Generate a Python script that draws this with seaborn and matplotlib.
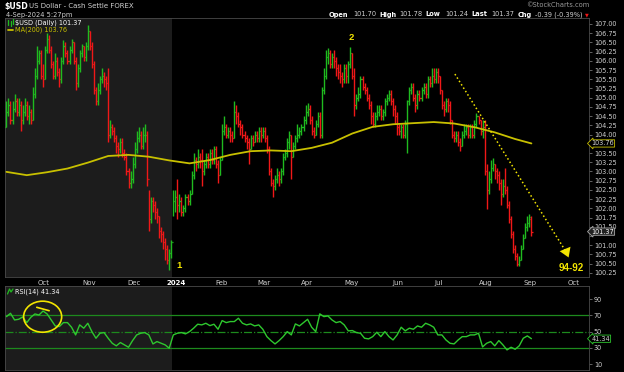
import numpy as np
import pandas as pd
import seaborn as sns
import matplotlib.pyplot as plt
from matplotlib.patches import Ellipse

# daily bars for $USD, 7-Sep-2023 .. 4-Sep-2024
closes = [
    104.6, 104.8, 104.4, 104.7, 104.9, 104.6, 104.8, 104.4, 104.6, 104.8, 104.5, 104.6, 104.4, 105.1, 105.6, 106.0, 106.2,
    105.6, 105.5, 106.3, 106.6, 106.3, 105.9, 105.6, 106.0, 105.7, 105.5, 106.0, 106.4, 106.2, 106.0, 106.3, 106.5, 106.0, 105.4, 105.8, 106.2, 106.4, 106.1,
    106.4, 106.8, 106.4, 105.9, 105.2, 104.9, 105.2, 105.5, 105.6, 105.5, 105.4, 104.0, 104.2, 104.1, 103.9, 103.7, 103.6, 103.8, 103.5, 103.4, 103.0, 102.7,
    102.8, 103.2, 103.6, 103.9, 104.0, 103.7, 104.0, 104.0, 102.8, 101.7, 102.2, 102.1, 101.9, 101.8, 101.4, 101.3, 101.1, 100.9, 100.6, 100.8, 101.1,
    102.2, 102.3, 102.1, 102.2, 101.9, 102.0, 102.3, 102.2, 102.4, 102.9, 103.3, 103.2, 103.4, 103.3, 103.0, 103.2, 103.4, 103.2, 103.5, 103.3, 103.6, 103.2,
    102.9, 103.3, 104.1, 104.2, 104.0, 104.1, 104.0, 103.9, 104.6, 104.5, 104.3, 104.2, 104.0, 103.9, 103.8, 103.6, 103.9, 103.8, 104.0, 103.9, 104.1,
    104.0, 104.1, 103.9, 103.6, 103.0, 102.7, 102.6, 102.8, 102.9, 102.8, 103.0, 103.4, 103.5, 103.8, 104.0, 103.4, 103.7, 103.9, 104.0, 104.1, 104.2,
    104.4, 104.6, 104.7, 104.4, 104.1, 104.0, 104.3, 104.5, 104.0, 105.2, 105.6, 106.1, 106.2, 105.9, 106.1, 106.0, 105.8, 105.7, 105.6, 105.5, 105.8, 105.6,
    105.9, 106.2, 105.6, 104.8, 105.0, 105.1, 105.5, 105.3, 105.2, 105.0, 104.8, 104.5, 104.3, 104.5, 104.6, 104.7, 104.5, 104.6, 104.9, 105.0, 105.1, 104.9, 104.7,
    104.5, 104.2, 104.1, 104.2, 104.0, 104.3, 104.9, 105.2, 105.3, 105.0, 104.8, 105.1, 105.0, 105.2, 105.3, 105.1, 105.5, 105.4, 105.6, 105.5,
    105.7, 105.6, 105.2, 104.8, 104.7, 104.9, 104.8, 104.4, 104.0, 103.9, 104.0, 103.8, 103.7, 104.0, 104.1, 104.2, 104.0, 104.2, 104.0, 104.3, 104.5, 104.4, 104.1,
    104.2, 103.0, 102.5, 102.8, 103.1, 103.2, 103.0, 102.9, 102.7, 102.4, 102.6, 102.5, 102.1, 101.7, 101.3, 100.9, 100.7, 100.5, 100.6, 100.9, 101.2, 101.5,
    101.6, 101.76, 101.37,
]
highs = [
    104.9, 105.0, 104.9, 104.9, 105.1, 105.0, 105.0, 104.9, 104.8, 105.0, 104.9, 104.8, 104.7, 105.3, 105.8, 106.4, 106.3,
    106.3, 105.9, 106.4, 106.75, 106.7, 106.4, 106.0, 106.2, 106.1, 105.8, 106.1, 106.57, 106.5, 106.3, 106.4, 106.6, 106.5, 106.1, 105.9, 106.3, 106.45, 106.4,
    106.5, 106.98, 106.8, 106.5, 106.0, 105.3, 105.4, 105.6, 105.8, 105.7, 105.6, 105.8, 104.4, 104.3, 104.2, 104.0, 103.8, 103.9, 103.9, 103.6, 103.5, 103.1,
    103.0, 103.4, 103.8, 104.1, 104.2, 104.1, 104.2, 104.3, 104.1, 102.5, 102.3, 102.3, 102.2, 102.0, 101.8, 101.5, 101.4, 101.2, 101.0, 100.9, 101.15,
    102.5, 102.5, 102.8, 102.4, 102.3, 102.1, 102.4, 102.4, 102.5, 103.0, 103.5, 103.4, 103.6, 103.5, 103.6, 103.3, 103.5, 103.5, 103.6, 103.6, 103.7, 103.7,
    103.3, 103.4, 104.3, 104.5, 104.3, 104.2, 104.2, 104.1, 104.9, 104.8, 104.6, 104.4, 104.3, 104.1, 104.0, 103.9, 104.0, 104.0, 104.1, 104.1, 104.2,
    104.2, 104.2, 104.2, 104.0, 103.7, 103.1, 102.8, 102.9, 103.1, 103.0, 103.1, 103.5, 103.6, 103.9, 104.1, 104.0, 103.8, 104.0, 104.3, 104.2, 104.3,
    104.5, 104.8, 104.86, 104.8, 104.5, 104.2, 104.4, 104.6, 104.6, 105.3, 105.8, 106.3, 106.35, 106.3, 106.2, 106.3, 106.1, 105.9, 105.9, 105.7, 105.9, 105.9,
    106.0, 106.37, 106.2, 105.8, 105.1, 105.3, 105.6, 105.6, 105.4, 105.3, 105.1, 104.9, 104.6, 104.6, 104.8, 104.8, 104.8, 104.7, 105.0, 105.1, 105.2, 105.2, 105.0,
    104.8, 104.6, 104.3, 104.3, 104.3, 104.4, 104.95, 105.3, 105.4, 105.4, 105.1, 105.2, 105.2, 105.3, 105.4, 105.4, 105.6, 105.6, 105.8, 105.8,
    105.8, 105.8, 105.6, 105.2, 104.9, 105.0, 105.0, 104.9, 104.4, 104.1, 104.1, 104.1, 103.9, 104.1, 104.3, 104.3, 104.3, 104.3, 104.3, 104.4, 104.59, 104.5, 104.4,
    104.4, 104.4, 103.2, 103.0, 103.3, 103.37, 103.2, 103.1, 103.0, 102.8, 102.8, 103.1, 102.6, 102.2, 101.8, 101.4, 101.0, 100.8, 100.7, 101.0, 101.3, 101.6,
    101.8, 101.85, 101.78,
]
lows = [
    104.2, 104.5, 104.3, 104.3, 104.6, 104.5, 104.5, 104.1, 104.3, 104.5, 104.4, 104.3, 104.3, 104.4, 105.0, 105.5, 105.9,
    105.5, 105.3, 105.5, 106.2, 106.2, 105.8, 105.5, 105.5, 105.6, 105.3, 105.4, 105.9, 106.1, 105.9, 105.9, 106.2, 105.9, 105.2, 105.3, 105.7, 106.1, 106.0,
    106.0, 106.3, 106.3, 105.8, 105.1, 104.8, 104.8, 105.1, 105.4, 105.3, 105.2, 103.8, 103.9, 104.0, 103.8, 103.5, 103.4, 103.5, 103.4, 103.3, 102.9, 102.55,
    102.55, 102.7, 103.1, 103.5, 103.8, 103.6, 103.6, 103.8, 102.6, 101.4, 101.6, 101.9, 101.7, 101.6, 101.2, 101.1, 100.9, 100.6, 100.5, 100.34, 100.66,
    101.8, 101.9, 101.7, 101.9, 101.8, 101.8, 101.9, 102.1, 102.1, 102.4, 102.8, 103.0, 103.1, 103.1, 102.6, 102.9, 103.1, 103.1, 103.1, 103.2, 103.2, 103.1,
    102.7, 102.9, 103.3, 104.0, 103.9, 103.9, 103.8, 103.8, 103.9, 104.3, 104.2, 104.0, 103.9, 103.8, 103.6, 103.2, 103.6, 103.7, 103.8, 103.8, 103.8,
    103.8, 103.9, 103.8, 103.5, 102.9, 102.6, 102.3, 102.5, 102.7, 102.6, 102.7, 102.9, 103.3, 103.4, 103.6, 102.8, 103.4, 103.6, 103.8, 103.9, 104.0,
    104.1, 104.3, 104.5, 104.3, 104.0, 103.9, 104.0, 104.2, 103.9, 103.9, 105.1, 105.5, 105.9, 105.8, 105.8, 105.8, 105.6, 105.5, 105.4, 105.3, 105.4, 105.4,
    105.4, 105.8, 105.5, 104.5, 104.7, 104.9, 105.0, 105.2, 105.1, 104.9, 104.7, 104.3, 104.2, 104.2, 104.4, 104.5, 104.4, 104.4, 104.5, 104.8, 104.9, 104.8, 104.5,
    104.3, 104.0, 104.0, 103.9, 103.9, 103.9, 103.5, 104.8, 105.1, 104.9, 104.6, 104.7, 104.9, 104.9, 105.1, 105.0, 105.0, 105.3, 105.3, 105.4,
    105.4, 105.4, 105.1, 104.7, 104.5, 104.6, 104.6, 104.3, 103.9, 103.8, 103.8, 103.7, 103.55, 103.7, 103.9, 104.0, 103.9, 103.9, 103.9, 103.9, 104.2, 104.3, 104.0,
    103.9, 102.9, 101.97, 102.4, 102.7, 103.0, 102.8, 102.7, 102.5, 102.1, 102.3, 102.4, 102.0, 101.6, 101.2, 100.8, 100.6, 100.43, 100.45, 100.6, 100.9, 101.2,
    101.4, 101.5, 101.24,
]
last_open = 101.70

# 200-day moving average, one value every 10 sessions plus the last session
ma200 = [102.99, 102.90, 102.98, 103.08, 103.24, 103.42, 103.45, 103.40, 103.30, 103.22,
         103.31, 103.45, 103.55, 103.57, 103.55, 103.64, 103.78, 104.03, 104.21, 104.28,
         104.31, 104.34, 104.30, 104.20, 104.06, 103.88, 103.76]

# RSI(14), one value every 2 sessions
rsi14 = [68.6, 72.7, 64.5, 65.3, 68.2, 61.2, 67.8, 71.9, 70.6, 75.5,
         71.9, 64.5, 57.1, 56.3, 61.2, 61.2, 55.5, 46.0, 58.4, 54.3,
         60.4, 50.1, 41.9, 48.1, 48.9, 41.9, 35.7, 32.5, 36.6, 33.7,
         30.8, 39.0, 46.0, 48.1, 48.9, 46.0, 34.9, 37.8, 35.7, 33.7,
         29.6, 46.0, 48.1, 48.9, 47.3, 50.1, 54.3, 59.2, 58.4, 60.4,
         57.5, 59.2, 53.0, 63.7, 61.2, 62.5, 62.5, 66.6, 60.4, 58.4,
         59.6, 57.1, 58.4, 53.0, 43.9, 39.0, 34.9, 39.0, 43.9, 50.1,
         46.0, 59.6, 57.1, 61.2, 65.3, 55.5, 50.1, 72.0, 68.6, 69.4,
         64.5, 61.2, 62.5, 58.4, 51.0, 51.4, 48.9, 48.1, 41.9, 41.1,
         43.9, 49.3, 43.9, 50.1, 43.9, 39.8, 46.0, 55.5, 51.0, 54.3,
         53.0, 57.1, 55.5, 60.4, 58.4, 55.5, 46.0, 46.0, 39.8, 35.7,
         34.9, 39.8, 43.9, 43.9, 46.0, 46.0, 48.1, 31.2, 35.7, 37.8,
         32.5, 39.0, 33.7, 27.5, 30.8, 28.3, 32.5, 41.9, 44.8, 41.34]

month_labels = ['Oct', 'Nov', 'Dec', '2024', 'Feb', 'Mar', 'Apr', 'May', 'Jun', 'Jul', 'Aug', 'Sep', 'Oct']
price_ticks = np.arange(100.25, 107.01, 0.25)
rsi_ticks = [10, 30, 50, 70, 90]

GREEN = '#1fbb1f'
RED = '#f01818'
YELLOW = '#f2e400'
MA_COL = '#c8c000'
GRAY_BG = '#1c1c1c'
TXT = '#d0d0d0'

sns.set_theme(style="dark", rc={"axes.facecolor": "black", "figure.facecolor": "black",
                                "axes.edgecolor": "#444444", "text.color": TXT})
plt.rcParams['font.family'] = ['DejaVu Sans']

# trading sessions (weekdays, New Year's Day skipped), running past the data
sessions = pd.bdate_range("2023-09-07", "2024-10-31")
sessions = sessions[sessions != pd.Timestamp("2024-01-01")]
n = len(closes)
idx = np.arange(n)
opens = [lows[0]] + closes[:-2] + [last_open]
prev = [lows[0]] + closes[:-1]
bar_cols = [GREEN if c >= p else RED for c, p in zip(closes, prev)]

months = pd.date_range("2023-10-01", "2024-10-01", freq="MS")
month_pos = np.array([sessions.searchsorted(m) for m in months])

W, H = 624, 372
fig = plt.figure(figsize=(W / 100, H / 100), dpi=100)


def fx(x):
    return x / W


def fy(y):
    return 1 - y / H


def ptext(x, y, s, **kw):
    kw.setdefault('va', 'center')
    kw.setdefault('fontsize', 4.8)
    fig.text(fx(x), fy(y), s, **kw)


XL = (-0.7, 286.3)
ax = fig.add_axes([fx(5), fy(277), fx(589) - fx(5), fy(18) - fy(277)])
rx = fig.add_axes([fx(5), fy(370), fx(589) - fx(5), fy(286) - fy(370)])

for a in (ax, rx):
    a.set_facecolor('black')
    a.axvspan(XL[0], 81.6, color=GRAY_BG, zorder=0, lw=0)
    a.set_xlim(*XL)
    for s in a.spines.values():
        s.set_color('#4a4a4a')
        s.set_linewidth(0.6)

# price bars (high-low line, open tick left, close tick right)
ax.vlines(idx, lows, highs, colors=bar_cols, lw=1.0, zorder=3)
ax.hlines(opens, idx - 0.55, idx, colors=bar_cols, lw=0.9, zorder=3)
ax.hlines(closes, idx, idx + 0.55, colors=bar_cols, lw=0.9, zorder=3)

ma_x = list(idx[::10]) + [idx[-1]]
sns.lineplot(x=ma_x, y=ma200, ax=ax, color=MA_COL, lw=1.3, zorder=4)

ax.set_ylim(100.14, 107.16)
ax.yaxis.tick_right()
ax.set_yticks(price_ticks)
# label hidden behind the MA value tag is left blank
hidden = {"103.75", "101.25"}
ax.set_yticklabels([("" if f"{v:.2f}" in hidden else f"{v:.2f}") for v in price_ticks])
ax.tick_params(axis='y', colors='#888888', labelcolor=TXT, labelsize=4.7, length=2, width=0.5, pad=1.5, right=True)
ax.set_xticks(month_pos + 1.5)
ax.set_xticklabels(month_labels)
ax.tick_params(axis='x', length=0, labelsize=5, labelcolor=TXT, pad=2)
for t in ax.get_xticklabels():
    if t.get_text() == '2024':
        t.set_fontweight('bold')
        t.set_color('white')
ax.grid(False)
ax.set_xlabel('')
ax.set_ylabel('')

# wave labels and target
ax.text(83.6, 100.45, '1', color=YELLOW, fontsize=6.8, fontweight='bold', va='center', ha='left',
        family='Liberation Sans', zorder=6)
ax.text(169.3, 106.62, '2', color=YELLOW, fontsize=6.8, fontweight='bold', va='center', ha='center',
        family='Liberation Sans', zorder=6)
ax.text(277.5, 100.39, '94-92', color=YELLOW, fontsize=7, fontweight='bold', va='center', ha='center',
        family='Liberation Sans', zorder=6)
ax.plot([220.4, 274.6], [105.64, 100.86], color=YELLOW, lw=1.1, ls=(0, (1, 1.6)), zorder=5)
ax.annotate('', xy=(276.8, 100.6), xytext=(274.4, 100.92),
            arrowprops=dict(arrowstyle='-|>,head_length=0.55,head_width=0.35', color=YELLOW, lw=0.01),
            zorder=6)

# value tags on the price axis
ax.text(1.004, ma200[-1], f"{ma200[-1]:.2f}", transform=ax.get_yaxis_transform(), fontsize=4.7,
        color=TXT, va='center', ha='left', clip_on=False, zorder=8,
        bbox=dict(boxstyle='larrow,pad=0.1', fc='black', ec=MA_COL, lw=0.6))
ax.text(1.004, closes[-1], f"{closes[-1]:.2f}", transform=ax.get_yaxis_transform(), fontsize=4.7,
        color='white', va='center', ha='left', clip_on=False, zorder=8,
        bbox=dict(boxstyle='larrow,pad=0.1', fc='#222222', ec='#aaaaaa', lw=0.6))

# RSI panel
rsi_x = idx[::2][:len(rsi14)]
for lvl in (70, 30):
    rx.axhline(lvl, color='#1d8a1d', lw=0.9, zorder=2)
rx.axhline(50, color='#1d8a1d', lw=0.9, ls='-.', zorder=2)
sns.lineplot(x=rsi_x, y=rsi14, ax=rx, color='#2ec82e', lw=1.0, zorder=4)
rx.set_ylim(2.7, 106.4)
rx.yaxis.tick_right()
rx.set_yticks(rsi_ticks)
rx.tick_params(axis='y', colors='#888888', labelcolor=TXT, labelsize=4.7, length=2, width=0.5, pad=1.5, right=True)
rx.set_xticks([])
rx.grid(False)
rx.set_xlabel('')
rx.set_ylabel('')
rx.text(1.004, rsi14[-1], f"{rsi14[-1]:.2f}", transform=rx.get_yaxis_transform(), fontsize=4.7,
        color=TXT, va='center', ha='left', clip_on=False, zorder=8,
        bbox=dict(boxstyle='larrow,pad=0.1', fc='black', ec='#2ec82e', lw=0.6))

rx.add_patch(Ellipse((17.8, 68.5), width=18.7, height=38.3, fill=False, ec=YELLOW, lw=1.2, zorder=6))
rx.plot([14.9, 21.0], [80.1, 75.9], color=YELLOW, lw=1.2, zorder=6)

# header
ptext(4, 6.5, '$USD', color='white', fontweight='bold', fontsize=5.6)
ptext(29, 6.5, 'US Dollar - Cash Settle FOREX', color=TXT, fontsize=5)
ptext(6, 15, '4-Sep-2024 5:27pm', color=TXT, fontsize=4.8)
ptext(589, 5, '\u00a9StockCharts.com', color='#9a9a9a', fontsize=4.8, ha='right')
quote = [('Open', 329, True), (f"{last_open:.2f}", 353, False),
         ('High', 379, True), (f"{highs[-1]:.2f}", 399, False),
         ('Low', 425, True), (f"{lows[-1]:.2f}", 445, False),
         ('Last', 471, True), (f"{closes[-1]:.2f}", 491, False),
         ('Chg', 518, True), ('-0.39 (-0.39%)', 535, False)]
for s, x, b in quote:
    ptext(x, 14.5, s, color='white' if b else TXT, fontweight='bold' if b else 'normal', fontsize=4.8)
ptext(585, 14.5, '\u25bc', color=RED, fontsize=3.5)

# in-panel legends
fig.lines.append(plt.Line2D([fx(8), fx(8)], [fy(25), fy(20)], color=GREEN, lw=0.9, transform=fig.transFigure))
fig.lines.append(plt.Line2D([fx(10.5), fx(10.5)], [fy(26), fy(21)], color=GREEN, lw=0.9, transform=fig.transFigure))
fig.lines.append(plt.Line2D([fx(13), fx(13)], [fy(24), fy(19)], color=GREEN, lw=0.9, transform=fig.transFigure))
ptext(15, 22.5, f"$USD (Daily) {closes[-1]:.2f}", color='white', fontsize=4.7)
fig.lines.append(plt.Line2D([fx(7.5), fx(13)], [fy(29.5), fy(29.5)], color=MA_COL, lw=1.3, transform=fig.transFigure))
ptext(15, 29.5, f"MA(200) {ma200[-1]:.2f}", color=MA_COL, fontsize=4.7)
fig.lines.append(plt.Line2D([fx(7.5), fx(9.5), fx(11), fx(13)], [fy(294), fy(289), fy(292), fy(289)],
                            color=GREEN, lw=0.9, transform=fig.transFigure))
ptext(15, 291.5, f"RSI(14) {rsi14[-1]:.2f}", color='white', fontsize=4.7)

fig.savefig("out.png", dpi=100, facecolor='black')
